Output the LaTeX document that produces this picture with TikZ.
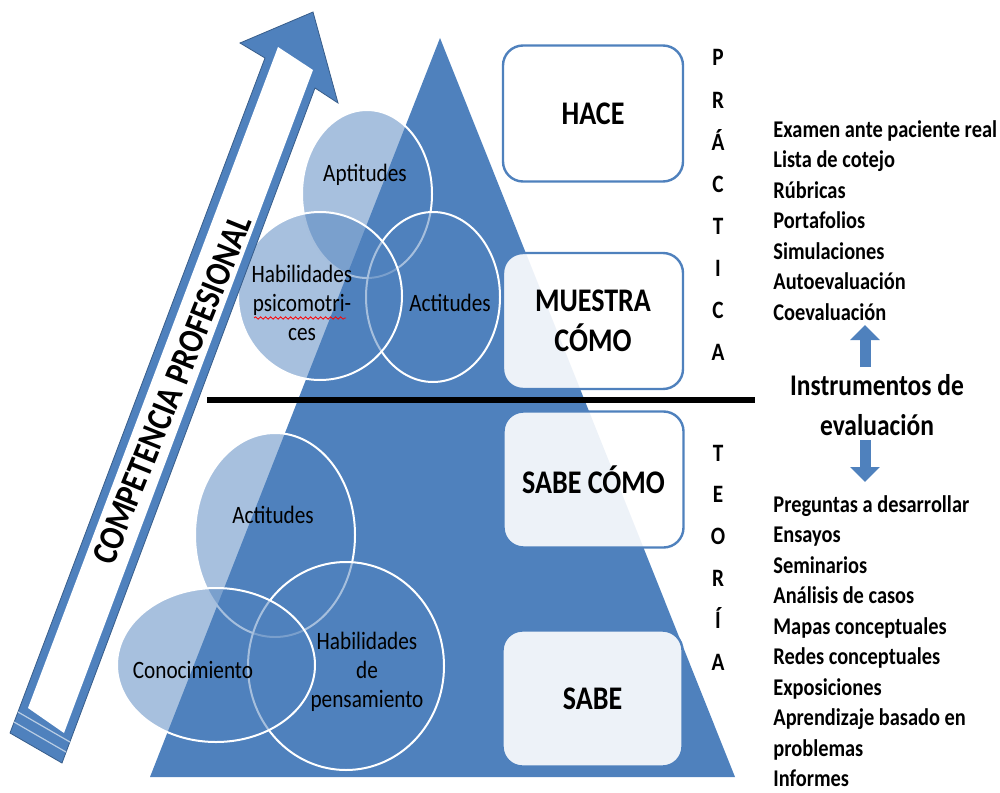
\documentclass[tikz,border=0pt]{standalone}
\usepackage{fontspec}
\setmainfont{Carlito}[FakeStretch=0.85]
\usetikzlibrary{shapes, arrows.meta, positioning, decorations.pathmorphing}
\definecolor{ofblue}{HTML}{4F81BD}
\definecolor{ofdark}{HTML}{385D8A}
\tikzstyle{level}=[draw=ofblue,line width=1.2pt,fill=white,fill opacity=0.9,text opacity=1,rounded corners=10pt,minimum width=90pt,minimum height=68pt,align=center,font=\fontsize{16.5}{20}\selectfont\bfseries]
\tikzstyle{ring}=[fill=ofblue,fill opacity=0.5,draw=white,draw opacity=1,line width=1pt]
\tikzstyle{tag}=[align=center,inner sep=0pt,font=\fontsize{12.5}{14.5}\selectfont]
\tikzstyle{letter}=[anchor=base,inner sep=0pt,font=\fontsize{12.5}{14}\selectfont\bfseries]
\tikzstyle{item}=[anchor=base west,inner sep=0pt,font=\fontsize{12}{14}\selectfont\bfseries]
\tikzstyle{fatarrow}=[ofblue,line width=5.5pt,-{Triangle[width=14.5pt,length=7.5pt]}]

\begin{document}
\begin{tikzpicture}[x=0.5pt,y=-0.5pt]
    \useasboundingbox (0,0) rectangle (1000,792);
    \fill[ofblue] (440,38) -- (735,777) -- (150,777) -- cycle;
    \draw[ring] (367,194) ellipse [x radius=65, y radius=84];
    \draw[ring] (433,297) ellipse [x radius=67, y radius=85];
    \draw[ring] (320,296) ellipse [x radius=82, y radius=84];
    \draw[ring] (275,535) ellipse [x radius=80, y radius=102];
    \draw[ring] (346,666) ellipse [x radius=98, y radius=104];
    \draw[ring] (216,665) ellipse [x radius=99, y radius=77];
    \node[tag] (aptitudes) at (365,175) {Aptitudes};
    \node[tag] (psico) at (302,303) {Habilidades\\psicomotri-\\ces};
    \draw[red,line width=0.4pt,decorate,decoration={snake,amplitude=0.6pt,segment length=2.5pt}] (254,318) -- (346,318);
    \node[tag] (actup) at (450,303) {Actitudes};
    \node[tag] (actlow) at (273,515) {Actitudes};
    \node[tag] (conoc) at (193,670) {Conocimiento};
    \node[tag] (pensar) at (367,672) {Habilidades\\de\\pensamiento};
    \node[level] (hace) at (593,113.5) {HACE};
    \node[level] (muestra) at (593,321) {MUESTRA\\CÓMO};
    \node[level] (sabecomo) at (593.5,479.5) {SABE CÓMO};
    \node[level] (sabe) at (592.5,698.5) {SABE};
    \coordinate (divl) at (207,400);
    \coordinate (divr) at (755,400);
    \draw[line width=3pt] (divl) -- (divr);
    \foreach \l [count=\i] in {P,R,Á,C,T,I,C,A}
        \node[letter] (p\i) at (718,{66+42.1*(\i-1)}) {\l};
    \foreach \l [count=\i] in {T,E,O,R,Í,A}
        \node[letter] (t\i) at (718,{461+41.8*(\i-1)}) {\l};
    \fill[ofblue,draw=ofdark,line width=0.4pt] (313,12) -- (338,103) -- (315,88) -- (62,763) -- (10,733) -- (265,58) -- (240,43) -- cycle;
    \fill[white] (278,47) -- (313,70) -- (64,733) -- (28,708) -- cycle;
    \draw[ofblue!40!white,line width=0.6pt] (18,712) -- (70,742);
    \draw[ofblue!40!white,line width=0.6pt] (14,722) -- (66,752);
    \node[rotate=68,inner sep=0pt,font=\fontsize{18}{20}\selectfont\bfseries] (comp) at (172,390) {COMPETENCIA PROFESIONAL};
    \foreach \t [count=\i] in {Examen ante paciente real,Lista de cotejo,Rúbricas,Portafolios,Simulaciones,Autoevaluación,Coevaluación}
        \node[item] (a\i) at (773,{137+30.5*(\i-1)}) {\t};
    \node[align=center,inner sep=0pt,font=\fontsize{15}{20}\selectfont\bfseries] (instr) at (877,405) {Instrumentos de\\evaluación};
    \coordinate (upfoot) at (865,367);
    \coordinate (uptip) at (865,325);
    \draw[fatarrow] (upfoot) -- (uptip);
    \coordinate (downtop) at (865,440);
    \coordinate (downtip) at (865,482);
    \draw[fatarrow] (downtop) -- (downtip);
    \foreach \t [count=\i] in {Preguntas a desarrollar,Ensayos,Seminarios,Análisis de casos,Mapas conceptuales,Redes conceptuales,Exposiciones,Aprendizaje basado en,problemas,Informes}
        \node[item] (b\i) at (773,{512+30.55*(\i-1)}) {\t};
\end{tikzpicture}
\end{document}
